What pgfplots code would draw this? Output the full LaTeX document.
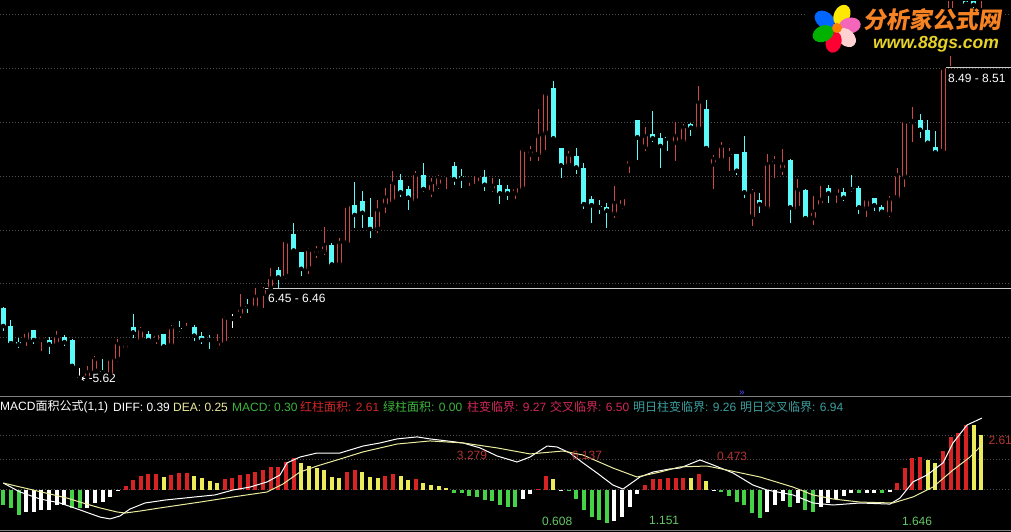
\documentclass[border=0pt]{standalone}
\usepackage{pgfplots}
\pgfplotsset{compat=1.18}
\usepackage{pgfplotstable}
\usepackage{fontspec}
\setmainfont{Liberation Sans}
\newfontfamily\cjk{Noto Sans CJK SC}

\definecolor{kred}{RGB}{205,72,72}
\definecolor{kcyan}{RGB}{90,250,250}
\definecolor{mred}{RGB}{215,35,35}
\definecolor{myel}{RGB}{235,235,90}
\definecolor{mgrn}{RGB}{70,210,70}
\definecolor{deacol}{RGB}{235,235,160}
\definecolor{gridc}{RGB}{80,80,80}
\definecolor{lblred}{RGB}{180,50,50}
\definecolor{lblgrn}{RGB}{100,200,100}
\definecolor{hdrgrn}{RGB}{60,180,60}
\definecolor{hdrred}{RGB}{210,40,40}
\definecolor{hdrpink}{RGB}{210,40,90}
\definecolor{hdrteal}{RGB}{60,160,160}
\definecolor{logoor}{RGB}{245,130,35}
\definecolor{logoyel}{RGB}{230,210,40}

% candles: index, open, high, low, close
\pgfplotstableread{
i o h l c
0 6.28 6.29 6.06 6.11
1 6.11 6.17 5.94 5.95
2 5.96 6.00 5.91 5.94
3 5.98 6.07 5.92 6.05
4 6.07 6.07 5.94 5.98
5 5.98 6.03 5.88 6.01
6 5.98 6.01 5.85 5.94
7 5.94 6.06 5.92 6.01
8 6.01 6.03 5.92 5.96
9 5.98 5.99 5.73 5.74
10 5.63 5.72 5.61 5.63
11 5.63 5.74 5.62 5.68
12 5.69 5.83 5.67 5.80
13 5.69 5.80 5.66 5.68
14 5.66 5.81 5.64 5.80
15 5.80 5.99 5.78 5.94
16 5.90 5.95 5.88 5.93
17 6.10 6.22 6.00 6.05
18 5.98 6.10 5.97 6.07
19 6.04 6.06 5.97 5.98
20 5.98 6.03 5.94 6.03
21 6.04 6.04 5.91 5.92
22 5.93 6.12 5.92 6.09
23 6.09 6.16 6.05 6.08
24 6.08 6.14 6.07 6.09
25 6.10 6.12 5.97 6.02
26 6.02 6.05 5.94 5.98
27 5.99 6.03 5.90 5.98
28 5.92 6.04 5.90 5.95
29 5.95 6.20 5.94 6.18
30 6.18 6.22 6.09 6.18
31 6.22 6.41 6.18 6.27
32 6.30 6.36 6.23 6.29
33 6.28 6.46 6.27 6.38
34 6.41 6.47 6.28 6.44
35 6.46 6.65 6.45 6.55
36 6.63 6.66 6.46 6.56
37 6.57 6.89 6.55 6.89
38 6.96 7.07 6.81 6.81
39 6.80 6.80 6.57 6.64
40 6.64 6.83 6.59 6.81
41 6.78 6.85 6.74 6.81
42 6.80 7.03 6.77 6.86
43 6.86 6.88 6.66 6.68
44 6.68 6.93 6.67 6.88
45 6.88 7.22 6.87 7.22
46 7.23 7.45 7.02 7.14
47 7.27 7.36 7.02 7.16
48 7.12 7.30 6.93 7.01
49 7.01 7.28 6.97 7.18
50 7.23 7.39 7.16 7.30
51 7.26 7.55 7.24 7.43
52 7.46 7.52 7.31 7.35
53 7.38 7.41 7.19 7.30
54 7.27 7.55 7.27 7.51
55 7.51 7.62 7.35 7.38
56 7.35 7.48 7.31 7.43
57 7.41 7.51 7.38 7.48
58 7.51 7.53 7.38 7.52
59 7.59 7.63 7.42 7.47
60 7.50 7.57 7.39 7.48
61 7.46 7.49 7.41 7.47
62 7.43 7.51 7.41 7.50
63 7.49 7.56 7.36 7.42
64 7.38 7.48 7.35 7.41
65 7.42 7.47 7.24 7.34
66 7.38 7.42 7.28 7.34
67 7.34 7.41 7.29 7.39
68 7.38 7.76 7.37 7.74
69 7.70 7.78 7.64 7.73
70 7.70 8.12 7.64 7.87
71 7.90 8.26 7.74 8.26
72 8.32 8.38 7.84 7.85
73 7.76 7.76 7.48 7.60
74 7.60 7.73 7.60 7.69
75 7.69 7.76 7.52 7.58
76 7.58 7.62 7.20 7.24
77 7.29 7.32 7.07 7.23
78 7.22 7.28 7.15 7.21
79 7.21 7.25 7.02 7.18
80 7.15 7.41 7.11 7.25
81 7.22 7.30 7.20 7.29
82 7.61 7.65 7.53 7.64
83 8.02 8.02 7.65 7.86
84 7.77 7.96 7.73 7.87
85 7.89 8.10 7.82 7.85
86 7.85 7.90 7.58 7.78
87 7.86 7.87 7.73 7.85
88 7.81 8.00 7.64 7.87
89 7.82 7.98 7.81 7.95
90 7.98 7.99 7.87 7.95
91 7.94 8.34 7.93 8.18
92 8.12 8.21 7.76 7.76
93 7.61 7.70 7.38 7.66
94 7.65 7.82 7.65 7.77
95 7.70 7.76 7.55 7.71
96 7.71 7.71 7.51 7.55
97 7.72 7.87 7.30 7.35
98 7.12 7.38 7.04 7.35
99 7.28 7.34 7.16 7.24
100 7.20 7.71 7.20 7.61
101 7.63 7.69 7.48 7.64
102 7.56 7.75 7.51 7.61
103 7.65 7.66 7.07 7.21
104 7.20 7.47 7.19 7.37
105 7.37 7.38 7.11 7.11
106 7.11 7.32 7.05 7.17
107 7.23 7.41 7.22 7.28
108 7.39 7.42 7.25 7.34
109 7.34 7.40 7.25 7.38
110 7.35 7.39 7.27 7.30
111 7.39 7.51 7.35 7.38
112 7.39 7.41 7.15 7.21
113 7.20 7.28 7.12 7.28
114 7.30 7.30 7.18 7.23
115 7.21 7.23 7.15 7.17
116 7.15 7.32 7.12 7.28
117 7.30 7.58 7.29 7.51
118 7.49 8.00 7.40 8.00
119 8.00 8.14 7.82 8.01
120 8.02 8.08 7.85 7.93
121 7.93 8.02 7.81 7.81
122 7.77 7.92 7.70 7.72
123 7.73 8.51 7.73 8.50
124 8.66 9.45 8.52 9.40
125 9.30 9.90 9.20 9.80
126 9.90 10.00 9.08 9.10
127 9.80 9.90 9.06 9.09
128 9.30 9.70 9.05 9.60
}\kdata

% MACD bars: index, value, colour (0 red, 1 yellow, 2 green, 3 white)
\pgfplotstableread{
i v k
0 -0.082 2
1 -0.100 2
2 -0.137 2
3 -0.118 3
4 -0.118 3
5 -0.109 3
6 -0.109 3
7 -0.082 3
8 -0.082 3
9 -0.100 2
10 -0.100 2
11 -0.100 3
12 -0.073 3
13 -0.064 3
14 -0.040 3
15 -0.006 3
16 0.022 0
17 0.055 0
18 0.077 0
19 0.087 0
20 0.087 0
21 0.073 1
22 0.082 0
23 0.095 0
24 0.095 0
25 0.077 1
26 0.064 1
27 0.049 1
28 0.040 1
29 0.058 0
30 0.064 0
31 0.082 0
32 0.087 0
33 0.100 0
34 0.109 0
35 0.128 0
36 0.124 0
37 0.155 0
38 0.173 0
39 0.146 1
40 0.131 1
41 0.118 1
42 0.109 1
43 0.073 1
44 0.064 1
45 0.100 0
46 0.109 0
47 0.097 1
48 0.073 1
49 0.064 1
50 0.077 0
51 0.086 0
52 0.077 1
53 0.055 1
54 0.058 0
55 0.036 1
56 0.027 1
57 0.022 1
58 0.009 1
59 -0.015 2
60 -0.018 2
61 -0.033 2
62 -0.036 2
63 -0.055 2
64 -0.058 2
65 -0.082 2
66 -0.091 2
67 -0.091 2
68 -0.049 3
69 -0.022 3
70 0.005 0
71 0.077 0
72 0.058 1
73 -0.004 3
74 -0.004 2
75 -0.051 2
76 -0.109 2
77 -0.146 2
78 -0.164 2
79 -0.179 2
80 -0.168 3
81 -0.149 3
82 -0.091 3
83 -0.022 3
84 0.027 0
85 0.058 0
86 0.058 0
87 0.064 0
88 0.064 0
89 0.067 0
90 0.064 1
91 0.087 0
92 0.049 1
93 -0.003 3
94 -0.009 2
95 -0.033 2
96 -0.064 2
97 -0.082 2
98 -0.128 2
99 -0.155 2
100 -0.118 3
101 -0.082 3
102 -0.058 3
103 -0.095 2
104 -0.073 3
105 -0.109 2
106 -0.118 2
107 -0.095 3
108 -0.069 3
109 -0.051 3
110 -0.033 3
111 -0.018 3
112 -0.018 2
113 -0.015 3
114 -0.015 3
115 -0.018 2
116 -0.009 3
117 0.040 0
118 0.118 0
119 0.173 0
120 0.182 0
121 0.164 1
122 0.146 1
123 0.213 0
124 0.291 0
125 0.310 0
126 0.355 0
127 0.355 1
128 0.300 1
}\mdata

\pgfplotsset{
  wick/.style={only marks, mark=none, forget plot,
    error bars/y dir=both, error bars/y explicit, error bars/error mark=none,
    error bars/error bar style={line width=1pt, color=#1}},
  body/.style 2 args={only marks, mark=none, forget plot,
    error bars/y dir=plus, error bars/y explicit, error bars/error mark=none,
    error bars/error bar style={line width=#2, color=#1}},
  panel/.style={scale only axis, anchor=south west, width=1011pt,
    xmin=-0.432, xmax=131.9, hide axis},
  up/.style={restrict expr to domain={\thisrow{c}-\thisrow{o}}{0.001:10}},
  down/.style={restrict expr to domain={\thisrow{c}-\thisrow{o}}{-10:-0.001}},
  flat/.style={restrict expr to domain={\thisrow{c}-\thisrow{o}}{-0.001:0.001}},
}
\tikzset{gridline/.style={gridc, line width=1pt, dash pattern=on 1pt off 2pt}}

\begin{document}
\begin{tikzpicture}[x=1pt, y=1pt, font=\fontsize{12}{14}\selectfont]
\useasboundingbox (0,0) rectangle (1011,532);
\fill[black] (0,0) rectangle (1011,532);
\clip (0,0) rectangle (1011,532);

% price panel
\begin{axis}[panel, at={(0,124)}, height=397pt, ymin=5.439, ymax=9.122]
\pgfplotsinvokeforeach{6,6.5,7,7.5,8,8.5,9}{
  \draw[gridline] (axis cs:-0.432,#1) -- (axis cs:131.9,#1);}
% wicks
\addplot[wick=kred, up] table[x=i, y=c, y error plus expr=\thisrow{h}-\thisrow{c}, y error minus expr=\thisrow{c}-\thisrow{l}] {\kdata};
\addplot[wick=kcyan, down] table[x=i, y=c, y error plus expr=\thisrow{h}-\thisrow{c}, y error minus expr=\thisrow{c}-\thisrow{l}] {\kdata};
\addplot[wick=white, flat] table[x=i, y=c, y error plus expr=\thisrow{h}-\thisrow{c}, y error minus expr=\thisrow{c}-\thisrow{l}] {\kdata};
% bodies
\addplot[body={kred}{5pt}, up] table[x=i, y=o, y error plus expr=\thisrow{c}-\thisrow{o}] {\kdata};
\addplot[body={black}{3pt}, up] table[x=i, y expr=\thisrow{o}+0.0093, y error plus expr={max(\thisrow{c}-\thisrow{o}-0.0186,0)}] {\kdata};
\addplot[body={kcyan}{5pt}, down] table[x=i, y=c, y error plus expr=\thisrow{o}-\thisrow{c}] {\kdata};
\addplot[body={white}{5pt}, flat] table[x=i, y expr=\thisrow{o}-0.0046, y error plus expr=0.0093] {\kdata};
% price marks
\draw[white!80!black] (axis cs:34.25,6.46) -- (axis cs:131.9,6.46);
\node[anchor=west, inner sep=0pt, white] at (axis cs:34.65,6.367) {6.45 - 6.46};
\draw[white!80!black] (axis cs:123.4,8.51) -- (axis cs:131.9,8.51);
\node[anchor=west, inner sep=0pt, white] at (axis cs:123.65,8.41) {8.49 - 8.51};
\draw[white, line width=1pt, -stealth] (axis cs:11.6,5.622) -- (axis cs:10.0,5.622);
\node[anchor=west, inner sep=0pt, white] at (axis cs:11.65,5.622) {5.62};
\end{axis}

% MACD panel
\begin{axis}[panel, at={(0,0)}, height=135pt, ymin=-0.2295, ymax=0.508]
\pgfplotsinvokeforeach{0,0.164,0.30}{
  \draw[gridline] (axis cs:-0.432,#1) -- (axis cs:131.9,#1);}
\addplot[ycomb, line width=4pt, mred, restrict expr to domain={\thisrow{k}}{-0.5:0.5}] table[x=i, y=v] {\mdata};
\addplot[ycomb, line width=4pt, myel, restrict expr to domain={\thisrow{k}}{0.5:1.5}] table[x=i, y=v] {\mdata};
\addplot[ycomb, line width=4pt, mgrn, restrict expr to domain={\thisrow{k}}{1.5:2.5}] table[x=i, y=v] {\mdata};
\addplot[ycomb, line width=4pt, white, restrict expr to domain={\thisrow{k}}{2.5:3.5}] table[x=i, y=v] {\mdata};
% DIFF
\addplot[white, line width=1pt] coordinates {
(0,0.038) (2.19,-0.011) (4.80,-0.049) (7.42,-0.071) (10.04,-0.109) (12.66,-0.148)
(13.97,-0.158) (15.27,-0.142) (16.58,-0.104) (18.55,-0.071) (21.16,-0.055) (25.09,-0.038)
(27.71,-0.027) (30.07,0) (32.29,0.016) (34.52,0.044) (36.22,0.082) (37.13,0.148)
(38.83,0.180) (41.06,0.202) (44.07,0.202) (47.08,0.240) (49.31,0.257) (51.53,0.279)
(54.15,0.290) (55.85,0.279) (58.08,0.268) (60.17,0.257) (62.40,0.230) (64.62,0.186)
(67.24,0.153) (68.94,0.180) (71.17,0.240) (72.48,0.235) (74.17,0.202) (75.88,0.148)
(77.71,0.093) (79.80,0.027) (81.11,0.005) (83.34,0.071) (85.04,0.098) (87.26,0.115)
(88.57,0.120) (91.19,0.164) (92.89,0.137) (95.51,0.093) (98.13,0.027) (99.96,0)
(103.36,-0.027) (105.98,-0.071) (108.60,-0.082) (112.13,-0.071) (116.06,-0.077)
(117.37,-0.044) (119.07,0.044) (120.90,0.082) (123.00,0.148) (124.31,0.257)
(126.14,0.355) (128.10,0.393)};
% DEA
\addplot[deacol, line width=1pt] coordinates {
(0,0.038) (3.89,0) (8.34,-0.044) (10.43,-0.071) (12.66,-0.098) (14.88,-0.120)
(15.93,-0.126) (17.89,-0.115) (20.51,-0.098) (25.75,-0.066) (30.07,-0.038) (34.52,-0.011)
(36.61,0.033) (38.83,0.098) (41.06,0.131) (44.07,0.169) (47.08,0.208) (51.53,0.251)
(55.85,0.268) (60.17,0.257) (64.62,0.230) (68.94,0.197) (73.26,0.213) (75.88,0.191)
(79.80,0.120) (82.94,0.071) (85.96,0.098) (88.57,0.126) (92.11,0.131) (94.73,0.109)
(99.05,0.071) (103.36,0.016) (105.98,-0.027) (108.60,-0.049) (112.13,-0.066)
(116.45,-0.071) (119.07,-0.038) (121.69,0.016) (124.31,0.109) (126.53,0.180)
(128.10,0.246)};
\node[text=lblred] at (axis cs:61.35,0.191) {3.279};
\node[text=lblred] at (axis cs:76.4,0.191) {6.137};
\node[text=lblred] at (axis cs:95.4,0.186) {0.473};
\node[text=lblred, anchor=west] at (axis cs:128.5,0.273) {2.61};
\node[text=lblgrn] at (axis cs:72.5,-0.169) {0.608};
\node[text=lblgrn] at (axis cs:86.5,-0.169) {1.151};
\node[text=lblgrn] at (axis cs:119.6,-0.169) {1.646};
\end{axis}

% panel frame lines
\draw[gray, line width=1pt] (0,135) -- (1011,135);
\draw[gray, line width=1pt] (0,1.5) -- (1011,1.5);

% indicator header
\begin{scope}[every node/.style={anchor=west, inner sep=0pt}]
\node[white] at (0,125) {MACD{\cjk 面积公式}(1,1)};
\node[white] at (113,125) {DIFF: 0.39};
\node[text=deacol] at (173,125) {DEA: 0.25};
\node[text=hdrgrn] at (232,125) {MACD: 0.30};
\node[text=hdrred] at (300,125) {{\cjk 红柱面积}: 2.61};
\node[text=hdrgrn] at (383,125) {{\cjk 绿柱面积}: 0.00};
\node[text=hdrpink] at (467,125) {{\cjk 柱变临界}: 9.27};
\node[text=hdrpink] at (550,125) {{\cjk 交叉临界}: 6.50};
\node[text=hdrteal] at (633,125) {{\cjk 明日柱变临界}: 9.26};
\node[text=hdrteal] at (740,125) {{\cjk 明日交叉临界}: 6.94};
\node[text=blue!70!white, font=\fontsize{10}{10}\selectfont] at (739,139) {»};
\end{scope}

% logo
\fill[black] (807,476) rectangle (1005,524);
\foreach \a/\c in {144/{blue!60!cyan}, 65/{yellow!90!orange}, 10/{magenta!60!white}, -43/{pink!70!white}, -100/{red!80!magenta}, 204/{green!70!black}}
  \fill[\c, shift={(836,504)}, rotate=\a] (14,0) ellipse [x radius=11, y radius=8];
\fill[orange] (837,504) circle (5);
\node[text=logoor, font=\fontsize{23}{25}\selectfont\cjk\bfseries, xslant=0.15] at (934,512) {分析家公式网};
\node[text=logoyel, font=\fontsize{17.5}{19}\selectfont\bfseries\itshape] at (936,488) {www.88gs.com};
\end{tikzpicture}
\end{document}
